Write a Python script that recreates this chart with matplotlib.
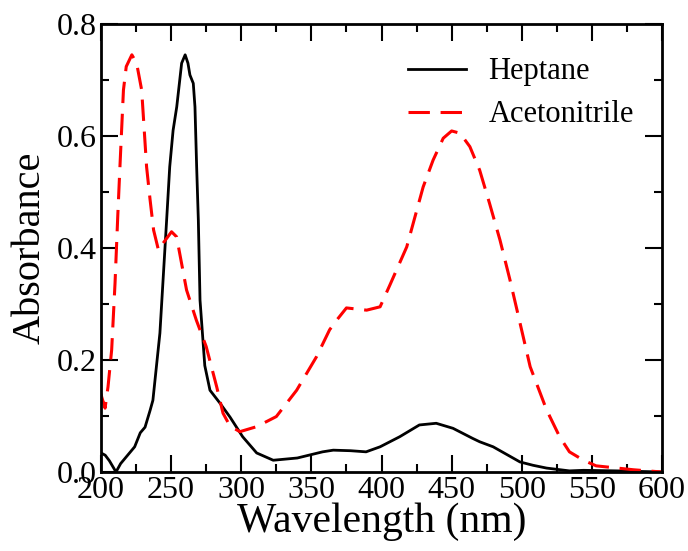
import numpy as np
import matplotlib
matplotlib.use("Agg")
import matplotlib.pyplot as plt
from matplotlib.ticker import MultipleLocator, FormatStrFormatter

# === DATA ===
heptane_nm = [200, 203, 206, 210.7, 214, 219, 224, 228, 231.4, 235, 237, 242, 246.8,
              249, 251.4, 254, 257.5, 260, 262, 263.4, 265.8, 267, 268.2, 269.4,
              270.6, 274, 277.7, 284.8, 292, 301, 311, 322.8, 340, 358, 365.6, 378,
              389, 399, 413, 427, 439, 451, 465, 470, 479.6, 498.7, 508, 517.7, 534,
              544, 568, 600]
heptane_abs = [0.034, 0.03, 0.02, 0.0, 0.015, 0.03, 0.045, 0.07, 0.08, 0.11, 0.128,
               0.248, 0.45, 0.545, 0.61, 0.652, 0.73, 0.745, 0.73, 0.709, 0.694,
               0.652, 0.545, 0.45, 0.307, 0.19, 0.146, 0.123, 0.098, 0.063, 0.034,
               0.021, 0.025, 0.036, 0.039, 0.038, 0.036, 0.045, 0.063, 0.084, 0.087,
               0.078, 0.06, 0.054, 0.045, 0.018, 0.012, 0.007, 0.002, 0.003, 0.002,
               0.0]

acn_nm = [200, 200.5, 202.9, 205, 207.6, 210, 212, 213.5, 216, 218, 222, 225.4, 229,
          232.5, 235, 237.5, 241, 244.4, 250.3, 253.9, 261, 268, 275, 282.5, 287,
          292, 299, 311, 325, 339.5, 353.7, 363, 368, 375, 389.4, 399, 406, 418,
          429.7, 436.8, 444, 450, 456, 463, 470, 477, 484.5, 491.6, 497, 506, 517.7,
          527, 534, 544, 553, 579.6, 600]
acn_abs = [0.14, 0.134, 0.114, 0.152, 0.218, 0.337, 0.46, 0.545, 0.682, 0.724,
           0.745, 0.73, 0.682, 0.545, 0.486, 0.432, 0.396, 0.409, 0.429, 0.42,
           0.325, 0.271, 0.224, 0.152, 0.105, 0.082, 0.072, 0.081, 0.099, 0.146,
           0.206, 0.254, 0.271, 0.293, 0.289, 0.295, 0.334, 0.402, 0.509, 0.557,
           0.596, 0.609, 0.605, 0.581, 0.539, 0.48, 0.414, 0.343, 0.285, 0.188,
           0.111, 0.063, 0.036, 0.021, 0.011, 0.004, 0.0]

series_labels = ["Heptane", "Acetonitrile"]

# === PLOT ===
plt.rcParams['font.family'] = ['Liberation Serif', 'DejaVu Serif']

fig = plt.figure(figsize=(6.88, 5.51), dpi=100)
ax = fig.add_axes([101 / 688, 1 - 472 / 551, 561 / 688, 448 / 551])

ax.plot(heptane_nm, heptane_abs, color='black', lw=2.0, label=series_labels[0])
ax.plot(acn_nm, acn_abs, color='red', lw=2.2, dashes=(7, 3.5), label=series_labels[1])

ax.set_xlim(200, 600)
ax.set_ylim(0, 0.8)
ax.xaxis.set_major_locator(MultipleLocator(50))
ax.xaxis.set_minor_locator(MultipleLocator(25))
ax.yaxis.set_major_locator(MultipleLocator(0.2))
ax.yaxis.set_minor_locator(MultipleLocator(0.1))
ax.yaxis.set_major_formatter(FormatStrFormatter('%.1f'))

ax.tick_params(which='both', direction='in', top=True, right=True, width=1.5)
ax.tick_params(which='major', length=12, labelsize=23, pad=3)
ax.tick_params(which='minor', length=6)
for s in ax.spines.values():
    s.set_linewidth(2)

ax.set_xlabel("Wavelength (nm)", fontsize=30, labelpad=-2)
ax.set_ylabel("Absorbance", fontsize=29, labelpad=6)

ax.legend(loc='upper right', frameon=False, fontsize=22, handlelength=1.9,
          handletextpad=0.75, labelspacing=0.45, borderaxespad=0.3,
          bbox_to_anchor=(0.988, 0.973))

fig.savefig("out.png", dpi=100)
